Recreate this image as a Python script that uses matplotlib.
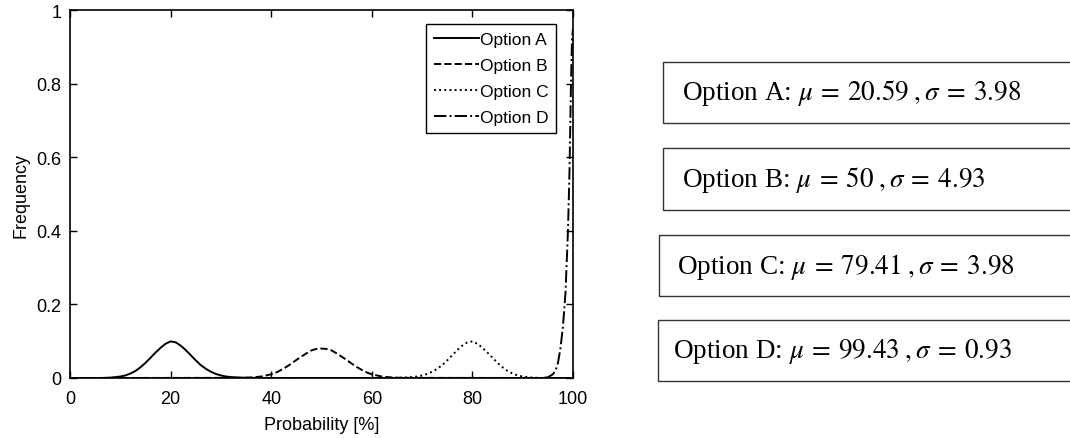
"""
Curvas de frecuencia de las cuatro opciones + cajas con media y desviación.
"""

import matplotlib
matplotlib.use("Agg")
import matplotlib.pyplot as plt
from matplotlib.patches import Rectangle

plt.rcParams["font.family"] = ["Liberation Sans", "DejaVu Sans"]
plt.rcParams["mathtext.fontset"] = "stix"

# Datos
x_a = [0, 6, 8, 10, 11, 12, 13, 14, 15, 16, 17, 18, 19, 20, 21, 22, 23, 24, 25, 26,
       27, 28, 29, 30, 31, 32, 34, 36, 38, 100]
y_a = [0, 0, 0.001, 0.004, 0.007, 0.012, 0.019, 0.029, 0.041, 0.055, 0.069, 0.082,
       0.093, 0.0995, 0.097, 0.088, 0.076, 0.062, 0.048, 0.035, 0.025, 0.017,
       0.011, 0.007, 0.004, 0.0025, 0.001, 0.0004, 0, 0]

x_b = [0, 34, 36, 38, 40, 41, 42, 43, 44, 45, 46, 47, 48, 49, 50, 51, 52, 53, 54, 55,
       56, 57, 58, 59, 60, 62, 64, 66, 100]
y_b = [0, 0.0004, 0.0014, 0.004, 0.010, 0.015, 0.022, 0.030, 0.039, 0.049, 0.058,
       0.067, 0.075, 0.079, 0.080, 0.079, 0.075, 0.067, 0.058, 0.049, 0.039, 0.030,
       0.022, 0.015, 0.010, 0.004, 0.0014, 0.0004, 0]

x_c = [0, 62, 64, 66, 68, 69, 70, 71, 72, 73, 74, 75, 76, 77, 78, 79, 80, 81, 82, 83,
       84, 85, 86, 87, 88, 89, 90, 92, 94, 100]
y_c = [0, 0, 0.0004, 0.001, 0.0025, 0.004, 0.007, 0.011, 0.017, 0.025, 0.035, 0.048,
       0.062, 0.076, 0.088, 0.097, 0.0995, 0.093, 0.082, 0.069, 0.055, 0.041, 0.029,
       0.019, 0.012, 0.007, 0.004, 0.001, 0, 0]

x_d = [0, 94, 95, 96, 96.5, 97, 97.5, 98, 98.5, 99, 99.3, 99.6, 99.8, 100]
y_d = [0, 0, 0.002, 0.010, 0.020, 0.040, 0.080, 0.140, 0.230, 0.400, 0.560, 0.800,
       0.920, 0.950]

series = ["Option A", "Option B", "Option C", "Option D"]
estilos = ["-", "--", ":", "-."]

cajas = [
    r"Option A: $\mu\:=\:20.59\;,\sigma\:=\:3.98$",
    r"Option B: $\mu\:=\:50\;,\sigma\:=\:4.93$",
    r"Option C: $\mu\:=\:79.41\;,\sigma\:=\:3.98$",
    r"Option D: $\mu\:=\:99.43\;,\sigma\:=\:0.93$",
]

W, H = 1070, 439
fig = plt.figure(figsize=(W / 100, H / 100), dpi=100)
ax = fig.add_axes([70 / W, 1 - 379 / H, 503 / W, 368 / H])

for xs, ys, nombre, ls in zip([x_a, x_b, x_c, x_d], [y_a, y_b, y_c, y_d], series, estilos):
    ax.plot(xs, ys, ls, color="black", lw=1.4, label=nombre)

ax.set_xlim(0, 100)
ax.set_ylim(0, 1)
ax.set_xticks([0, 20, 40, 60, 80, 100])
ax.set_yticks([0, 0.2, 0.4, 0.6, 0.8, 1])
ax.set_yticklabels(["0", "0.2", "0.4", "0.6", "0.8", "1"])
ax.tick_params(direction="in", top=True, right=True, length=5, width=1,
               labelsize=13)
ax.tick_params(axis="x", pad=9)
ax.tick_params(axis="y", pad=6)
for s in ax.spines.values():
    s.set_linewidth(1.2)
ax.set_xlabel("Probability [%]", fontsize=13, labelpad=6)
ax.set_ylabel("Frequency", fontsize=13, labelpad=5)

leg = ax.legend(loc="upper right", bbox_to_anchor=((556 - 70) / 503, (379 - 25) / 368),
                fontsize=12.5, frameon=True, fancybox=False, edgecolor="black",
                handlelength=2.6, handletextpad=0.05, borderpad=0.45,
                labelspacing=0.62, borderaxespad=0, framealpha=1)
leg.get_frame().set_linewidth(1.0)

# Cajas de la derecha (coordenadas en píxeles)
pos_cajas = [(663, 63, 124, 682), (663, 149, 211, 682), (659, 236, 297, 677),
             (658, 321, 382, 673)]
for texto, (x0, y0, y1, xt) in zip(cajas, pos_cajas):
    fig.patches.append(Rectangle((x0 / W, 1 - y1 / H), (W + 10 - x0) / W, (y1 - y0) / H,
                                 transform=fig.transFigure, fill=False,
                                 edgecolor="#333333", lw=1.0))
    fig.text(xt / W, 1 - (y0 + y1) / 2 / H, texto, ha="left", va="center",
             fontsize=19.5, family=["Liberation Serif", "DejaVu Serif"])

fig.savefig("out.png", dpi=100)
